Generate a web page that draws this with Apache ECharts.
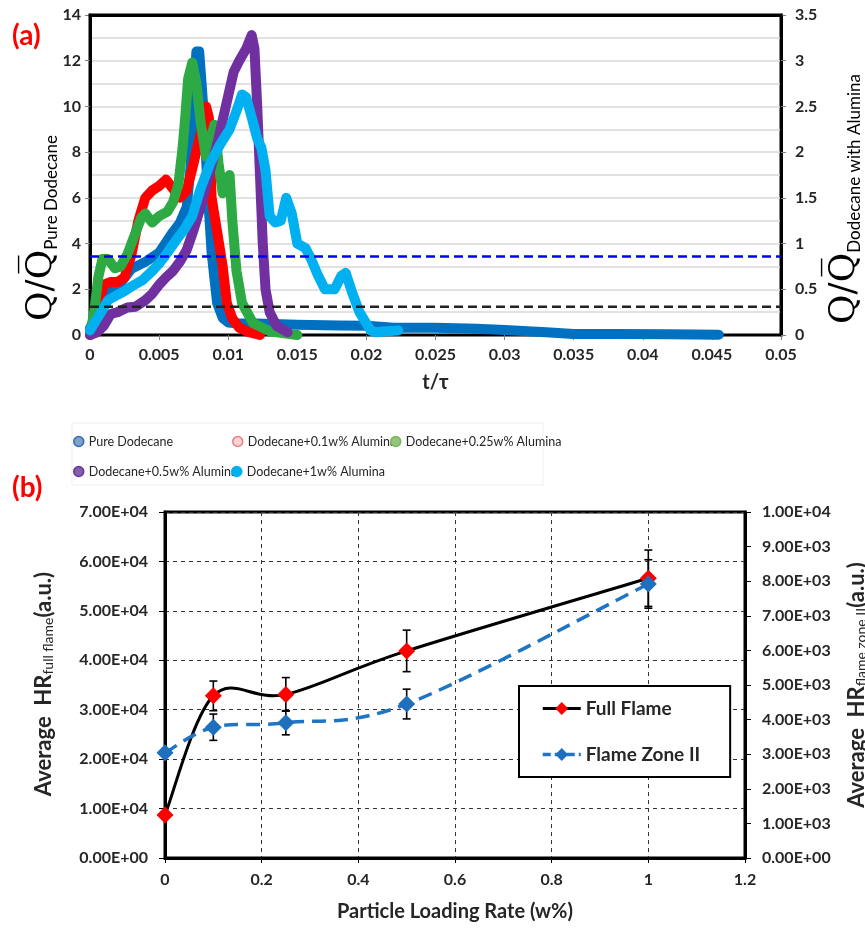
<!DOCTYPE html>
<html><head><meta charset="utf-8">
<script src="https://cdn.jsdelivr.net/npm/echarts@6/dist/echarts.min.js"></script>
<style>html,body{margin:0;padding:0;background:#fff}#c{width:865px;height:931px}</style>
</head><body><div id="c"></div>
<script>
// ---------- Panel (a) data ----------
// Pure Dodecane (left axis)
const pureT = [0, 0.0005, 0.001, 0.0015, 0.002, 0.003, 0.004, 0.005, 0.006, 0.0065, 0.007, 0.0073, 0.0075, 0.0077, 0.0079, 0.0081, 0.0083, 0.0085, 0.0088, 0.0092, 0.0096, 0.01, 0.0108, 0.012, 0.015, 0.018, 0.02, 0.022, 0.025, 0.028, 0.03, 0.033, 0.035, 0.038, 0.042, 0.0455];
const pureQ = [0.3, 0.9, 1.5, 1.9, 2.1, 2.9, 3.2, 3.6, 4.5, 4.9, 5.6, 7.5, 10.5, 12.4, 12.4, 10.8, 9.0, 6.5, 3.6, 1.4, 0.75, 0.55, 0.5, 0.5, 0.45, 0.42, 0.4, 0.32, 0.32, 0.27, 0.22, 0.12, 0.04, 0.04, 0.03, 0.01];
// Dodecane + 0.1w% Alumina (right axis)
const a01T = [0, 0.0004, 0.0008, 0.001, 0.0015, 0.002, 0.0025, 0.003, 0.0035, 0.004, 0.0045, 0.005, 0.0055, 0.006, 0.0065, 0.007, 0.0075, 0.008, 0.0084, 0.0086, 0.0088, 0.0092, 0.0096, 0.0099, 0.0103, 0.0108, 0.0115, 0.0123];
const a01Q = [0, 0.2, 0.45, 0.55, 0.58, 0.58, 0.63, 0.88, 1.25, 1.5, 1.58, 1.63, 1.7, 1.6, 1.5, 1.58, 1.88, 2.2, 2.5, 2.38, 1.5, 1.13, 0.75, 0.35, 0.18, 0.08, 0.03, 0];
// Dodecane + 0.25w% Alumina (right axis)
const a025T = [0, 0.0003, 0.0006, 0.0009, 0.0013, 0.0018, 0.0022, 0.0027, 0.0032, 0.0037, 0.004, 0.0045, 0.005, 0.0056, 0.006, 0.0064, 0.0067, 0.0069, 0.0071, 0.0074, 0.0077, 0.008, 0.0084, 0.0087, 0.009, 0.0093, 0.0096, 0.0099, 0.0101, 0.0103, 0.0106, 0.011, 0.0118, 0.013, 0.015];
const a025Q = [0, 0.25, 0.63, 0.83, 0.83, 0.73, 0.75, 0.88, 1.08, 1.28, 1.33, 1.23, 1.3, 1.35, 1.45, 1.65, 2.05, 2.4, 2.8, 2.98, 2.75, 2.33, 1.95, 2.13, 2.3, 1.88, 1.55, 1.7, 1.75, 1.25, 0.7, 0.35, 0.13, 0.04, 0];
// Dodecane + 0.5w% Alumina (right axis)
const a05T = [0, 0.0005, 0.001, 0.0015, 0.002, 0.0027, 0.0033, 0.004, 0.0045, 0.005, 0.0055, 0.006, 0.0065, 0.007, 0.0075, 0.008, 0.0087, 0.0093, 0.0099, 0.0104, 0.0108, 0.0113, 0.0117, 0.0119, 0.0121, 0.0123, 0.0125, 0.0127, 0.013, 0.0135, 0.0143];
const a05Q = [0, 0.03, 0.1, 0.23, 0.25, 0.3, 0.31, 0.38, 0.45, 0.55, 0.63, 0.7, 0.8, 0.93, 1.15, 1.4, 1.8, 2.15, 2.55, 2.88, 3.0, 3.13, 3.28, 3.13, 2.5, 1.75, 1.0, 0.5, 0.25, 0.1, 0.03];
// Dodecane + 1w% Alumina (right axis)
const a1T = [0, 0.0004, 0.0008, 0.0013, 0.002, 0.0025, 0.003, 0.0038, 0.0045, 0.005, 0.0056, 0.0062, 0.0068, 0.0074, 0.008, 0.0087, 0.0094, 0.0101, 0.0106, 0.011, 0.0113, 0.0117, 0.0121, 0.0124, 0.0127, 0.013, 0.0134, 0.0138, 0.0142, 0.0146, 0.015, 0.0156, 0.016, 0.0165, 0.017, 0.0177, 0.0182, 0.0185, 0.019, 0.0195, 0.0199, 0.0203, 0.0207, 0.0215, 0.0223];
const a1Q = [0.05, 0.15, 0.25, 0.38, 0.44, 0.48, 0.53, 0.6, 0.7, 0.78, 0.9, 1.03, 1.15, 1.3, 1.6, 1.88, 2.08, 2.25, 2.45, 2.63, 2.6, 2.38, 2.15, 2.05, 1.8, 1.3, 1.23, 1.25, 1.5, 1.33, 1.0, 0.95, 0.83, 0.65, 0.5, 0.5, 0.65, 0.68, 0.45, 0.25, 0.15, 0.05, 0.03, 0.04, 0.05];
// dashed reference levels (left axis units)
const refX = [0, 0.05];
const blueLevel = 3.43;
const blackLevel = 1.24;

const namesA = ['Pure Dodecane', 'Dodecane+0.1w% Alumina', 'Dodecane+0.25w% Alumina', 'Dodecane+0.5w% Alumina', 'Dodecane+1w% Alumina'];

// ---------- Panel (b) data ----------
const loading = [0, 0.1, 0.25, 0.5, 1];
const fullFlame = [8700, 32800, 33100, 41900, 56600];
const fullFlameErr = [0, 3000, 3400, 4200, 5700];
const zoneII = [3040, 3780, 3910, 4450, 7920];
const zoneIIErr = [0, 380, 350, 430, 700];

const FONT = 'Lato, "Open Sans", sans-serif';
const TXT = '#262626';

function pairs(t, v) { return t.map((x, i) => [x, v[i]]); }
function expFmt(v) {
  const s = Number(v).toExponential(2).toUpperCase();
  const m = s.split('E');
  let e = m[1];
  const sign = e[0] === '-' ? '-' : '+';
  e = e.replace('+', '').replace('-', '');
  return m[0] + 'E' + sign + e.padStart(2, '0');
}
function errData(x, y, e) {
  const out = [];
  x.forEach((xi, i) => { if (e[i] > 0) out.push([xi, y[i] - e[i], y[i] + e[i]]); });
  return out;
}
function errRender(params, api) {
  const x = api.value(0);
  const lo = api.coord([x, api.value(1)]);
  const hi = api.coord([x, api.value(2)]);
  const w = 4;
  const st = { stroke: '#000', lineWidth: 1.6 };
  return { type: 'group', children: [
    { type: 'line', shape: { x1: lo[0], y1: lo[1], x2: hi[0], y2: hi[1] }, style: st },
    { type: 'line', shape: { x1: lo[0] - w, y1: lo[1], x2: lo[0] + w, y2: lo[1] }, style: st },
    { type: 'line', shape: { x1: hi[0] - w, y1: hi[1], x2: hi[0] + w, y2: hi[1] }, style: st }
  ] };
}
// Excel-like smoothed curve (Catmull-Rom Bezier) through the data points, drawn via axis scales
function smoothRenderer(xs, ys, style) {
  return function (params, api) {
    if (params.dataIndex !== 0) return null;
    const p = xs.map((x, i) => api.coord([x, ys[i]]));
    const n = p.length;
    let d = 'M' + p[0][0] + ' ' + p[0][1];
    for (let i = 0; i < n - 1; i++) {
      const p0 = p[Math.max(i - 1, 0)], p1 = p[i], p2 = p[i + 1], p3 = p[Math.min(i + 2, n - 1)];
      const c1 = [p1[0] + (p2[0] - p0[0]) / 6, p1[1] + (p2[1] - p0[1]) / 6];
      const c2 = [p2[0] - (p3[0] - p1[0]) / 6, p2[1] - (p3[1] - p1[1]) / 6];
      d += ' C' + c1[0] + ' ' + c1[1] + ' ' + c2[0] + ' ' + c2[1] + ' ' + p2[0] + ' ' + p2[1];
    }
    return { type: 'path', shape: { pathData: d }, style: Object.assign({ fill: 'none' }, style) };
  };
}

const colorsA = ['#0070C0', '#FF0000', '#2EAA45', '#7030A0', '#00B0F0'];
const legendStyle = [
  { color: '#7FA0C8', borderColor: '#2E6DB4' },
  { color: '#F9D2D2', borderColor: '#E88080' },
  { color: '#93C47D', borderColor: '#7AB55C' },
  { color: '#8060A8', borderColor: '#7030A0' },
  { color: '#00B0F0', borderColor: '#00B0F0' }
];
const legendPos = [[73, 435], [232, 435], [390, 435], [73, 465], [231, 465]];

function lineA(name, data, yIdx, color, z) {
  return { name, type: 'line', xAxisIndex: 0, yAxisIndex: yIdx, data, showSymbol: false, clip: false, z,
    lineStyle: { width: 10, color, cap: 'round', join: 'round' }, itemStyle: { color }, silent: true };
}

const chart = echarts.init(document.getElementById('c'), null, { renderer: 'canvas' });
const labelBase = { fontFamily: FONT, fontSize: 16, fontWeight: 'bold', color: TXT };

const option = {
  animation: false,
  backgroundColor: '#fff',
  textStyle: { fontFamily: FONT },
  grid: [
    { left: 90, top: 15, width: 691, height: 320, show: true, borderColor: '#000', borderWidth: 3, backgroundColor: 'transparent' },
    { left: 165, top: 512, width: 580, height: 346, show: true, borderColor: '#000', borderWidth: 3, backgroundColor: 'transparent' }
  ],
  legend: namesA.map((n, i) => ({
    data: [n], left: legendPos[i][0], top: legendPos[i][1], padding: 0, icon: 'circle',
    itemWidth: 10, itemHeight: 10, itemGap: 4,
    itemStyle: { color: legendStyle[i].color, borderColor: legendStyle[i].borderColor, borderWidth: 1.5 },
    textStyle: { fontFamily: FONT, fontSize: 12.5, color: TXT },
    selectedMode: false
  })).concat([{
    data: [
      { name: 'Full Flame', lineStyle: { color: '#000', width: 3, opacity: 1, type: 'solid' } },
      { name: 'Flame Zone II', lineStyle: { color: '#1F75C4', width: 3.5, opacity: 1, type: [8, 4] } }
    ],
    orient: 'vertical', left: 519, top: 686,
    padding: [13, 30, 13, 22], itemGap: 27, itemWidth: 38, itemHeight: 16,
    borderColor: '#000', borderWidth: 2, backgroundColor: '#fff',
    textStyle: { fontFamily: FONT, fontSize: 19, color: TXT, fontWeight: 'bold' }, selectedMode: false
  }]),
  xAxis: [
    { gridIndex: 0, type: 'value', min: 0, max: 0.05, interval: 0.005,
      axisLine: { show: true, onZero: false, lineStyle: { color: '#000', width: 2 } },
      axisTick: { show: true, length: 5, lineStyle: { color: '#808080' } },
      axisLabel: Object.assign({ margin: 12, formatter: v => String(+v.toFixed(3)) }, labelBase),
      splitLine: { show: false },
      name: 't/τ', nameLocation: 'middle', nameGap: 38,
      nameTextStyle: { fontFamily: FONT, fontSize: 20, fontWeight: 'bold', color: TXT } },
    { gridIndex: 1, type: 'value', min: 0, max: 1.2, interval: 0.2,
      axisLine: { show: true, onZero: false, lineStyle: { color: '#000', width: 3 } },
      axisTick: { show: true, length: 5, lineStyle: { color: '#000' } },
      axisLabel: Object.assign({ margin: 14, formatter: v => String(+v.toFixed(1)) }, labelBase),
      splitLine: { show: true, lineStyle: { type: [4, 4], color: '#333', width: 1 } },
      name: 'Particle Loading Rate (w%)', nameLocation: 'middle', nameGap: 44,
      nameTextStyle: { fontFamily: FONT, fontSize: 20, fontWeight: 'bold', color: TXT } },
    { gridIndex: 0, type: 'value', min: 0, max: 0.05, position: 'top', z: 10,
      axisLine: { show: true, onZero: false, lineStyle: { color: '#000', width: 3 } },
      axisTick: { show: false }, axisLabel: { show: false }, splitLine: { show: false } }
  ],
  yAxis: [
    { gridIndex: 0, type: 'value', min: 0, max: 14, interval: 2, position: 'left',
      axisLine: { show: true, onZero: false, lineStyle: { color: '#000', width: 3 } },
      axisTick: { show: true, length: 5, lineStyle: { color: '#808080' } },
      axisLabel: Object.assign({ margin: 9 }, labelBase),
      splitLine: { show: true, lineStyle: { color: '#D9D9D9', width: 1.5 } },
      minorTick: { show: false, splitNumber: 2 },
      minorSplitLine: { show: true, lineStyle: { color: '#D9D9D9', width: 1.5 } } },
    { gridIndex: 0, type: 'value', min: 0, max: 3.5, interval: 0.5, position: 'right',
      axisLine: { show: true, onZero: false, lineStyle: { color: '#000', width: 3 } },
      axisTick: { show: true, length: 5, lineStyle: { color: '#808080' } },
      axisLabel: Object.assign({ margin: 14 }, labelBase),
      splitLine: { show: false } },
    { gridIndex: 1, type: 'value', min: 0, max: 70000, interval: 10000, position: 'left',
      axisLine: { show: true, onZero: false, lineStyle: { color: '#000', width: 3 } },
      axisTick: { show: true, length: 6, lineStyle: { color: '#000' } },
      axisLabel: Object.assign({ margin: 17, formatter: expFmt }, labelBase),
      splitLine: { show: true, lineStyle: { type: [4, 4], color: '#333', width: 1 } } },
    { gridIndex: 1, type: 'value', min: 0, max: 10000, interval: 1000, position: 'right',
      axisLine: { show: true, onZero: false, lineStyle: { color: '#000', width: 3 } },
      axisTick: { show: true, length: 6, lineStyle: { color: '#000' } },
      axisLabel: Object.assign({ margin: 17, formatter: expFmt }, labelBase),
      splitLine: { show: false } }
  ],
  series: [
    lineA(namesA[0], pairs(pureT, pureQ), 0, colorsA[0], 2),
    lineA(namesA[1], pairs(a01T, a01Q), 1, colorsA[1], 3),
    lineA(namesA[2], pairs(a025T, a025Q), 1, colorsA[2], 4),
    lineA(namesA[3], pairs(a05T, a05Q), 1, colorsA[3], 5),
    lineA(namesA[4], pairs(a1T, a1Q), 1, colorsA[4], 6),
    { name: 'blueRef', type: 'line', xAxisIndex: 0, yAxisIndex: 0, data: refX.map(x => [x, blueLevel]), showSymbol: false, z: 8, silent: true,
      lineStyle: { color: '#0000FF', width: 2.5, type: [9, 5] } },
    { name: 'blackRef', type: 'line', xAxisIndex: 0, yAxisIndex: 0, data: refX.map(x => [x, blackLevel]), showSymbol: false, z: 8, silent: true,
      lineStyle: { color: '#222', width: 2.5, type: [9, 5] } },
    { name: 'ffErr', type: 'custom', xAxisIndex: 1, yAxisIndex: 2, data: errData(loading, fullFlame, fullFlameErr), renderItem: errRender, z: 3, silent: true },
    { name: 'z2Err', type: 'custom', xAxisIndex: 1, yAxisIndex: 3, data: errData(loading, zoneII, zoneIIErr), renderItem: errRender, z: 3, silent: true },
    { name: 'ffCurve', type: 'custom', xAxisIndex: 1, yAxisIndex: 2, data: pairs(loading, fullFlame), silent: true, z: 3,
      renderItem: smoothRenderer(loading, fullFlame, { stroke: '#000', lineWidth: 3 }) },
    { name: 'z2Curve', type: 'custom', xAxisIndex: 1, yAxisIndex: 3, data: pairs(loading, zoneII), silent: true, z: 3,
      renderItem: smoothRenderer(loading, zoneII, { stroke: '#1F75C4', lineWidth: 3.5, lineDash: [14, 8] }) },
    { name: 'Full Flame', type: 'line', xAxisIndex: 1, yAxisIndex: 2, data: pairs(loading, fullFlame),
      symbol: 'diamond', symbolSize: 17, z: 4,
      lineStyle: { color: '#000', width: 3, opacity: 0 }, itemStyle: { color: '#FF0000' } },
    { name: 'Flame Zone II', type: 'line', xAxisIndex: 1, yAxisIndex: 3, data: pairs(loading, zoneII),
      symbol: 'diamond', symbolSize: 17, z: 5,
      lineStyle: { color: '#1F75C4', width: 3.5, opacity: 0 }, itemStyle: { color: '#1F6FBF' } }
  ],
  graphic: [
    { type: 'text', left: 12, top: 22, style: { text: '(a)', fill: '#FF0000', font: 'bold 28px ' + FONT } },
    { type: 'text', left: 12, top: 474, style: { text: '(b)', fill: '#FF0000', font: 'bold 28px ' + FONT } },
    { type: 'rect', shape: { x: 72, y: 423, width: 471, height: 62 }, style: { fill: 'none', stroke: '#EFEFEF', lineWidth: 1 } },
    { type: 'text', x: 42, y: 228, rotation: Math.PI / 2, style: {
        text: '{q|Q/Q\u0305}{s|Pure Dodecane}', align: 'center', verticalAlign: 'middle',
        rich: { q: { fontFamily: 'DejaVu Serif', fontSize: 36, fill: '#000' }, s: { fontFamily: FONT, fontSize: 17, fill: '#000', verticalAlign: 'bottom' } } } },
    { type: 'text', x: 845, y: 199, rotation: Math.PI / 2, style: {
        text: '{q|Q/Q\u0305}{s|Dodecane with Alumina}', align: 'center', verticalAlign: 'middle',
        rich: { q: { fontFamily: 'DejaVu Serif', fontSize: 36, fill: '#000' }, s: { fontFamily: FONT, fontSize: 17, fill: '#000', verticalAlign: 'bottom' } } } },
    { type: 'text', x: 44, y: 684, rotation: Math.PI / 2, style: {
        text: '{a|Average  HR}{s|full flame}{a|(a.u.)}', align: 'center', verticalAlign: 'middle',
        rich: { a: { fontFamily: FONT, fontSize: 22, fontWeight: 'bold', fill: TXT }, s: { fontFamily: FONT, fontSize: 14, fill: TXT, verticalAlign: 'bottom' } } } },
    { type: 'text', x: 857, y: 685, rotation: Math.PI / 2, style: {
        text: '{a|Average  HR}{s|flame zone II}{a|(a.u.)}', align: 'center', verticalAlign: 'middle',
        rich: { a: { fontFamily: FONT, fontSize: 22, fontWeight: 'bold', fill: TXT }, s: { fontFamily: FONT, fontSize: 14, fill: TXT, verticalAlign: 'bottom' } } } }
  ]
};
chart.setOption(option);
</script></body></html>
